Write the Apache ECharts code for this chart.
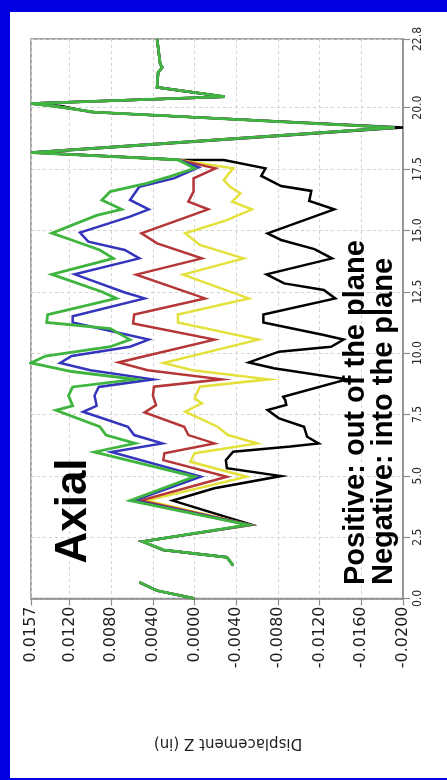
<!DOCTYPE html>
<html>
<head>
<meta charset="utf-8">
<script src="https://cdn.jsdelivr.net/npm/echarts@6/dist/echarts.min.js"></script>
<style>
  html, body { margin: 0; padding: 0; width: 447px; height: 780px; background: #0000e0; overflow: hidden; }
  #chart { position: absolute; left: 10px; top: 12px; width: 437px; height: 766px; background: #ffffff; }
</style>
</head>
<body>
<div id="chart"></div>
<script>
// Distance along the member (in) and out-of-plane displacement Z (in) for each trace.
// Shared start of every trace (the break is a gap in the record).
const bottomDist = [0.00, 0.32, 0.66, null, 1.34, 1.68, 1.98, 2.32];
const bottomDisp = [0.0000, 0.0036, 0.0053, null, -0.0037, -0.0031, 0.0030, 0.0050];

const greenDist = [3.00, 3.99, 4.97, 5.97, 6.32, 6.66, 7.00, 7.67, 7.85, 8.27, 8.62, 8.93, 9.25, 9.60, 9.88, 10.26, 10.55, 11.00, 11.25, 11.57, 12.23, 12.50, 13.21, 13.86, 14.20, 14.61, 14.89, 15.61, 15.86, 16.24, 16.58, 16.92, 17.19, 17.53];
const greenDisp = [-0.0051, 0.0062, 0.0000, 0.0096, 0.0057, 0.0085, 0.0091, 0.0133, 0.0117, 0.0121, 0.0117, 0.0057, 0.0118, 0.0157, 0.0143, 0.0081, 0.0062, 0.0081, 0.0142, 0.0141, 0.0075, 0.0089, 0.0137, 0.0078, 0.0091, 0.0118, 0.0137, 0.0094, 0.0070, 0.0089, 0.0081, 0.0046, 0.0024, 0.0000];

const blueDist = [3.00, 3.99, 4.97, 5.97, 6.32, 6.66, 7.00, 7.61, 7.85, 8.27, 8.62, 8.93, 9.30, 9.60, 9.88, 10.26, 10.55, 11.25, 11.50, 12.23, 12.47, 13.21, 13.86, 14.20, 14.54, 14.91, 15.56, 15.86, 16.24, 16.78, 17.12, 17.57];
const blueDisp = [-0.0052, 0.0058, -0.0006, 0.0080, 0.0031, 0.0058, 0.0064, 0.0107, 0.0094, 0.0096, 0.0092, 0.0040, 0.0100, 0.0129, 0.0118, 0.0062, 0.0044, 0.0117, 0.0117, 0.0048, 0.0067, 0.0115, 0.0053, 0.0067, 0.0102, 0.0110, 0.0062, 0.0044, 0.0062, 0.0053, 0.0020, -0.0004];

const redDist = [3.00, 3.99, 4.96, 5.64, 5.92, 6.32, 6.66, 7.00, 7.58, 7.88, 8.27, 8.63, 8.93, 9.30, 9.62, 10.55, 11.21, 11.57, 12.23, 13.20, 13.86, 14.47, 14.88, 15.49, 15.86, 16.17, 16.58, 17.12, 17.53];
const redDisp = [-0.0053, 0.0052, -0.0031, 0.0030, 0.0029, -0.0019, 0.0006, 0.0010, 0.0048, 0.0037, 0.0040, 0.0039, -0.0026, 0.0045, 0.0073, -0.0019, 0.0059, 0.0058, -0.0010, 0.0056, -0.0007, 0.0036, 0.0051, 0.0011, -0.0013, 0.0006, 0.0001, 0.0001, -0.0020];

const yellowDist = [3.00, 3.99, 4.96, 5.57, 5.92, 6.32, 6.66, 7.00, 7.61, 7.95, 8.16, 8.63, 8.93, 9.30, 9.60, 10.55, 11.25, 11.57, 12.23, 13.20, 13.86, 14.41, 14.88, 15.42, 15.86, 16.17, 16.51, 16.78, 17.06, 17.53];
const yellowDisp = [-0.0053, 0.0046, -0.0050, 0.0004, 0.0000, -0.0060, -0.0032, -0.0022, 0.0009, -0.0007, 0.0000, -0.0005, -0.0071, 0.0002, 0.0030, -0.0061, 0.0016, 0.0016, -0.0052, 0.0011, -0.0047, -0.0005, 0.0009, -0.0031, -0.0055, -0.0036, -0.0044, -0.0034, -0.0028, -0.0037];

const blackDist = [3.00, 3.99, 4.49, 4.99, 5.31, 5.64, 5.98, 6.19, 6.32, 6.59, 7.00, 7.34, 7.68, 7.89, 8.09, 8.22, 8.93, 9.38, 9.62, 10.06, 10.26, 10.55, 10.74, 11.25, 11.57, 12.23, 12.57, 12.84, 13.21, 13.86, 14.24, 14.61, 14.88, 15.86, 16.20, 16.61, 16.81, 17.22, 17.53, 17.87];
const blackDisp = [-0.0055, 0.0021, -0.0019, -0.0083, -0.0031, -0.0030, -0.0037, -0.0092, -0.0119, -0.0108, -0.0105, -0.0081, -0.0070, -0.0088, -0.0087, -0.0085, -0.0146, -0.0076, -0.0052, -0.0081, -0.0131, -0.0143, -0.0124, -0.0066, -0.0066, -0.0135, -0.0124, -0.0086, -0.0069, -0.0132, -0.0115, -0.0083, -0.0070, -0.0134, -0.0110, -0.0112, -0.0083, -0.0064, -0.0068, -0.0028];

// Shared end of the traces, past the point where they merge.
const topDist = [17.88, 18.17, 19.19, 19.82, 20.07, 20.17, 20.45, 20.83, 21.44, 21.64, 21.78, 22.80];
const topDisp = [0.0016, 0.0157, -0.0192, 0.0096, 0.0136, 0.0157, -0.0029, 0.0036, 0.0035, 0.0031, 0.0033, 0.0036];
const blackTopDisp = [0.0016, 0.0152, -0.0200, 0.0100, 0.0128, 0.0157, -0.0029, 0.0036, 0.0035, 0.0031, 0.0033, 0.0036];

// Axis ranges and tick positions
const distMin = 0, distMax = 22.8;
const distTicks = [0, 2.5, 5, 7.5, 10, 12.5, 15, 17.5, 20, 22.8];
const dispMin = -0.0200, dispMax = 0.0157, dispStep = 0.004;

function toPoints(dist, disp) {
  return dist.map((d, i) => (d === null ? ['-', '-'] : [disp[i], d]));
}

function trace(name, color, width, dist, disp, tail) {
  return {
    name: name,
    type: 'line',
    showSymbol: false,
    symbol: 'none',
    connectNulls: false,
    lineStyle: { color: color, width: width, join: 'miter' },
    itemStyle: { color: color },
    data: toPoints(bottomDist.concat(dist, topDist), bottomDisp.concat(disp, tail))
  };
}

const chart = echarts.init(document.getElementById('chart'), null, { renderer: 'canvas' });

const tickFont = 'DejaVu Sans';
chart.setOption({
  animation: false,
  backgroundColor: '#ffffff',
  grid: {
    left: 21, top: 27, right: 44, bottom: 179.5,
    show: true, borderColor: '#8c8c8c', borderWidth: 1.5, backgroundColor: 'transparent'
  },
  xAxis: {
    type: 'value',
    inverse: true,
    min: dispMin, max: dispMax, interval: dispStep,
    position: 'bottom',
    axisLine: { show: true, onZero: false, lineStyle: { color: '#8c8c8c', width: 1.5 } },
    axisTick: { show: true, length: 7, lineStyle: { color: '#8c8c8c', width: 1.2 } },
    axisLabel: {
      rotate: 90, margin: 8, fontFamily: tickFont, fontSize: 16, color: '#1e1e1e',
      formatter: v => (Math.abs(v) < 1e-9 ? '0.0000' : v.toFixed(4))
    },
    splitLine: { show: true, lineStyle: { color: '#d2d2d2', type: [3, 3], width: 1 } },
    name: 'Displacement Z (in)',
    nameLocation: 'middle',
    nameRotate: 180,
    nameGap: 137,
    nameTextStyle: { fontFamily: tickFont, fontSize: 15, color: '#1e1e1e', padding: [0, 22, 0, 0] }
  },
  yAxis: {
    type: 'value',
    position: 'right',
    min: distMin, max: distMax,
    axisLine: { show: true, onZero: false, lineStyle: { color: '#8c8c8c', width: 1.5 } },
    axisTick: { show: true, length: 7, customValues: distTicks, lineStyle: { color: '#8c8c8c', width: 1.2 } },
    axisLabel: {
      rotate: 90, margin: 9, customValues: distTicks,
      fontFamily: '"DejaVu Sans Condensed", "Liberation Sans Narrow", "Roboto Condensed", "DejaVu Sans"',
      fontSize: 12, color: '#2a2a2a',
      formatter: v => v.toFixed(1)
    },
    splitLine: { show: true, lineStyle: { color: '#d2d2d2', type: [3, 3], width: 1 } }
  },
  series: [
    trace('Black', '#000000', 2.5, blackDist, blackDisp, blackTopDisp),
    trace('Yellow', '#e4e03c', 2.5, yellowDist, yellowDisp, topDisp),
    trace('Red', '#b53636', 2.5, redDist, redDisp, topDisp),
    trace('Blue', '#3434bd', 2.5, blueDist, blueDisp, topDisp),
    trace('Green', '#3fb43f', 2.8, greenDist, greenDisp, topDisp)
  ],
  graphic: [
    {
      type: 'text', x: 63.5, y: 499, rotation: Math.PI / 2, z: 100,
      style: {
        text: 'Axial', fill: '#000000',
        font: 'bold 44px "Liberation Sans", Arial, sans-serif',
        textAlign: 'center', textVerticalAlign: 'middle', verticalAlign: 'middle'
      }
    },
    {
      type: 'text', x: 345.5, y: 573, rotation: Math.PI / 2, z: 100,
      style: {
        text: 'Positive: out of the plane', fill: '#000000',
        font: 'bold 29px "Liberation Sans", Arial, sans-serif',
        textAlign: 'left', textVerticalAlign: 'middle', verticalAlign: 'middle'
      }
    },
    {
      type: 'text', x: 373.5, y: 573, rotation: Math.PI / 2, z: 100,
      style: {
        text: 'Negative: into the plane', fill: '#000000',
        font: 'bold 29px "Liberation Sans", Arial, sans-serif',
        textAlign: 'left', textVerticalAlign: 'middle', verticalAlign: 'middle'
      }
    }
  ]
});
</script>
</body>
</html>
